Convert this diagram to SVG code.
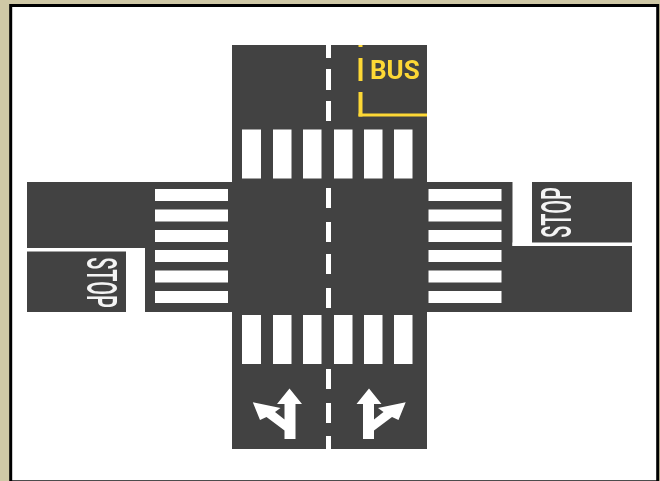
<svg xmlns="http://www.w3.org/2000/svg" width="660" height="481" viewBox="0 0 660 481">
<style>
.road{fill:#424242}
.w{fill:#fff}
.y{fill:#fdd835}
.stop{font-family:Roboto,"Liberation Sans",sans-serif;font-size:40px;font-weight:500;fill:#f4f4f4;text-anchor:middle}
.bus{font-family:Roboto,"Liberation Sans",sans-serif;font-size:26px;font-weight:700;fill:#fdd835}
</style>
<defs>
<filter id="soft" x="0" y="0" width="660" height="481" filterUnits="userSpaceOnUse"><feGaussianBlur stdDeviation="0.75"/></filter>
<polygon id="arrow" points="289.500,388.500 302,404 295.500,404 295.500,439 284.500,439 284.500,430.500 266.500,417 260,420 252.800,402.200 280.500,408 275,412 284.500,419.500 284.500,404 277,404"/>
</defs>
<rect width="660" height="481" fill="#cfc8a6"/>
<rect x="10.700" y="5.500" width="647" height="476.300" fill="#fff" stroke="#000" stroke-width="3"/>
<g filter="url(#soft)">
<g id="roads">
<rect class="road" x="232" y="45" width="195" height="404"/>
<rect class="road" x="27" y="182" width="605" height="130"/>
</g>
<g id="center-line" class="w">
<rect x="326" y="45" width="5" height="13"/>
<rect x="326" y="69" width="5" height="21"/>
<rect x="326" y="101" width="5" height="20"/>
<rect x="326" y="188" width="5" height="20"/>
<rect x="326" y="222" width="5" height="20"/>
<rect x="326" y="254" width="5" height="20"/>
<rect x="326" y="288" width="5" height="20"/>
<rect x="326" y="369" width="5" height="20"/>
<rect x="326" y="403" width="5" height="20"/>
<rect x="326" y="436" width="5" height="13"/>
</g>
<g id="crosswalk-north" class="w">
<rect x="242" y="129.500" width="19" height="49"/>
<rect x="273" y="129.500" width="18.500" height="49"/>
<rect x="303" y="129.500" width="18.500" height="49"/>
<rect x="334" y="129.500" width="18.500" height="49"/>
<rect x="364" y="129.500" width="18.500" height="49"/>
<rect x="394" y="129.500" width="18.500" height="49"/>
</g>
<g id="crosswalk-south" class="w">
<rect x="242" y="315" width="19" height="49"/>
<rect x="273" y="315" width="18.500" height="49"/>
<rect x="303" y="315" width="18.500" height="49"/>
<rect x="334" y="315" width="18.500" height="49"/>
<rect x="364" y="315" width="18.500" height="49"/>
<rect x="394" y="315" width="18.500" height="49"/>
</g>
<g id="crosswalk-west" class="w">
<rect x="155" y="189" width="73" height="12"/>
<rect x="155" y="209.500" width="73" height="12"/>
<rect x="155" y="230" width="73" height="12"/>
<rect x="155" y="250" width="73" height="12"/>
<rect x="155" y="270.500" width="73" height="12"/>
<rect x="155" y="291" width="73" height="12"/>
</g>
<g id="crosswalk-east" class="w">
<rect x="428.500" y="189" width="73" height="12"/>
<rect x="428.500" y="209.500" width="73" height="12"/>
<rect x="428.500" y="230" width="73" height="12"/>
<rect x="428.500" y="250" width="73" height="12"/>
<rect x="428.500" y="270.500" width="73" height="12"/>
<rect x="428.500" y="291" width="73" height="12"/>
</g>
<g id="stop-west">
<rect class="w" x="27" y="248" width="118" height="3.500"/>
<rect class="w" x="126" y="248" width="19" height="64.500"/>
<text class="stop" transform="translate(87,282.500) rotate(90) scale(0.5,1.04)" x="0" y="0">STOP</text>
</g>
<g id="stop-east">
<rect class="w" x="512.500" y="181.500" width="19.500" height="64.500"/>
<rect class="w" x="512.500" y="242.500" width="119.500" height="3.500"/>
<text class="stop" transform="translate(571,212.500) rotate(-90) scale(0.5,1.04)" x="0" y="0">STOP</text>
</g>
<g id="bus-lane">
<rect class="y" x="358.500" y="45" width="4" height="2"/>
<rect class="y" x="358.500" y="58" width="4" height="23"/>
<rect class="y" x="358.500" y="92" width="4" height="24.500"/>
<rect class="y" x="358.500" y="113.500" width="68.500" height="3"/>
<text class="bus" x="370" y="78.500">BUS</text>
</g>
<g id="arrow-left" class="w"><use href="#arrow"/></g>
<g id="arrow-right" class="w"><use href="#arrow" transform="translate(658.500,0) scale(-1,1)"/></g>
</g>
</svg>
